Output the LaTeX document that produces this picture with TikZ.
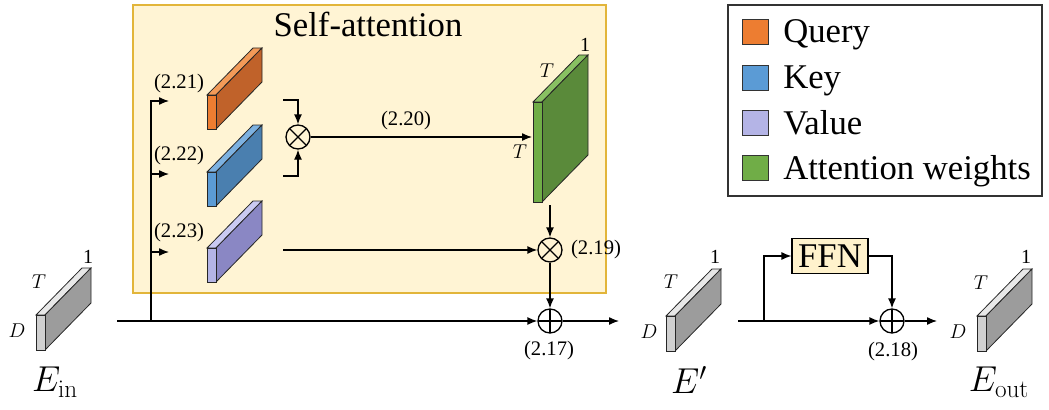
\documentclass[tikz,border=0pt]{standalone}
\usepackage{fix-cm}
\usepackage[no-math]{fontspec}
\setmainfont{Liberation Serif}
\usepackage{tikz}
\usetikzlibrary{arrows.meta, positioning, calc}

\definecolor{boxfill}{HTML}{FFF4D4}
\definecolor{boxline}{HTML}{E2B53A}
\definecolor{ffnfill}{HTML}{FFF2CC}
%% slab colours: front / top / side
\definecolor{embfront}{HTML}{D0D0D0}
\definecolor{embtop}{HTML}{E8E8E8}
\definecolor{embside}{HTML}{9C9C9C}
\definecolor{qryfront}{HTML}{ED7D31}
\definecolor{qrytop}{HTML}{F29A58}
\definecolor{qryside}{HTML}{C0622A}
\definecolor{keyfront}{HTML}{5B9BD5}
\definecolor{keytop}{HTML}{7DB1E0}
\definecolor{keyside}{HTML}{4A7FAF}
\definecolor{valfront}{HTML}{B4B4E6}
\definecolor{valtop}{HTML}{CACAF2}
\definecolor{valside}{HTML}{8A87C4}
\definecolor{attfront}{HTML}{70AD47}
\definecolor{atttop}{HTML}{88C062}
\definecolor{attside}{HTML}{5A8A3A}

%% slab: name, x, y (front top-left), height, colour prefix
\newcommand{\slab}[5]{%
  \filldraw[slabline, fill=#5top]  (#2,#3) -- ++(46,-47) -- ++(9,0) -- ++(-46,47) -- cycle;
  \filldraw[slabline, fill=#5side] (#2+9,#3) -- ++(46,-47) -- ++(0,#4) -- ++(-46,47) -- cycle;
  \filldraw[slabline, fill=#5front] (#2,#3) rectangle ++(9,#4);
  \coordinate (#1) at (#2,#3);
}

\begin{document}
\begin{tikzpicture}[
  x=0.75pt, y=-0.75pt,
  >={Latex[length=7.5pt,width=6pt]},
  %% ── Text styles ─────────────────────────────────────────────────────────
  big/.style={font=\fontsize{26}{30}\selectfont, inner sep=0pt},
  eq/.style={font=\fontsize{15.5}{18}\selectfont, inner sep=0pt},
  dim/.style={font=\fontsize{15}{17}\selectfont, inner sep=0pt},
  tname/.style={font=\fontsize{27}{30}\selectfont, inner sep=0pt},
  %% ── Shape styles ────────────────────────────────────────────────────────
  slabline/.style={draw=black!85, line width=0.6pt},
  opmul/.style={
    circle, draw, line width=1pt, minimum size=18pt, inner sep=0pt,
    path picture={\draw[line width=1pt]
      (path picture bounding box.south west) -- (path picture bounding box.north east)
      (path picture bounding box.north west) -- (path picture bounding box.south east);}
  },
  opadd/.style={
    circle, draw, line width=1pt, minimum size=18pt, inner sep=0pt,
    path picture={\draw[line width=1pt]
      (path picture bounding box.north) -- (path picture bounding box.south)
      (path picture bounding box.west) -- (path picture bounding box.east);}
  },
  ffnbox/.style={
    draw, fill=ffnfill, line width=0.8pt,
    minimum width=57pt, minimum height=26pt, inner sep=2pt,
    font=\fontsize{26}{30}\selectfont
  },
  %% ── Arrow styles ────────────────────────────────────────────────────────
  arr/.style={->, line width=1pt},
]
\useasboundingbox (0,0) rectangle (1049,410);

%% ═══════════════════════════════════════════════════════════════════════
%% SELF-ATTENTION BLOCK
%% ═══════════════════════════════════════════════════════════════════════
\filldraw[fill=boxfill, draw=boxline, line width=1pt] (133,5) rectangle (606,293);
\node[big] (satitle) at (368,24) {Self-attention};

%% ═══════════════════════════════════════════════════════════════════════
%% LEGEND
%% ═══════════════════════════════════════════════════════════════════════
\draw[black!80, line width=0.8pt] (728,5) rectangle (1042,196);
\foreach \yy/\col/\txt in {19/qryfront/Query, 65/keyfront/Key,
                           110/valfront/Value, 155/attfront/Attention weights}{
  \filldraw[fill=\col, draw=black!80, line width=0.6pt] (742,\yy) rectangle ++(26,25);
  \node[big, anchor=base west] at (783,\yy+24) {\txt};
}

%% ═══════════════════════════════════════════════════════════════════════
%% SLABS
%% ═══════════════════════════════════════════════════════════════════════
\slab{ein}{36}{315}{35}{emb}
\slab{emid}{666}{316}{35}{emb}
\slab{eout}{977}{316}{35}{emb}
\slab{qry}{207}{95}{34}{qry}
\slab{key}{207}{172}{34}{key}
\slab{val}{207}{248}{34}{val}
\slab{att}{533}{102}{100}{att}

%% — dimension labels ────────────────────────────────────────────────────
\node[dim] (einT) at (39,282) {$T$};
\node[dim] (einD) at (17,331) {$D$};
\node[dim] (ein1) at (88,257) {1};
\node[dim] (emidT) at (671,282) {$T$};
\node[dim] (emidD) at (649,332) {$D$};
\node[dim] (emid1) at (715,257) {1};
\node[dim] (eoutT) at (981,283) {$T$};
\node[dim] (eoutD) at (958,332) {$D$};
\node[dim] (eout1) at (1026,257) {1};
\node[dim] (attT)  at (547,71)  {$T$};
\node[dim] (attT2) at (520,152) {$T$};
\node[dim] (att1)  at (585,45)  {1};

%% — tensor names ────────────────────────────────────────────────────────
\node[tname] (einname)  at (55,382)  {$E_{\mathrm{in}}$};
\node[tname] (emidname) at (689,380) {$E'$};
\node[tname] (eoutname) at (999,382) {$E_{\mathrm{out}}$};

%% ═══════════════════════════════════════════════════════════════════════
%% OPERATORS
%% ═══════════════════════════════════════════════════════════════════════
\node[opmul] (mul1) at (298,137) {};
\node[opmul] (mul2) at (550,250) {};
\node[opadd] (add1) at (550,321) {};
\node[opadd] (add2) at (892,321) {};
\node[ffnbox] (ffn) at (830,256) {FFN};

%% — equation labels ─────────────────────────────────────────────────────
\node[eq] (eq21) at (179,84)  {(2.21)};
\node[eq] (eq22) at (179,156) {(2.22)};
\node[eq] (eq23) at (179,233) {(2.23)};
\node[eq] (eq20) at (406,121) {(2.20)};
\node[eq] (eq19) at (596,250) {(2.19)};
\node[eq] (eq17) at (549,351) {(2.17)};
\node[eq] (eq18) at (893,352) {(2.18)};

%% ═══════════════════════════════════════════════════════════════════════
%% CONNECTORS
%% ═══════════════════════════════════════════════════════════════════════
\coordinate (inl)  at (117,321);
\coordinate (br1)  at (151,321);
\coordinate (qin)  at (169,101);
\coordinate (kin)  at (169,174);
\coordinate (vin)  at (169,252);
\coordinate (qout) at (283,100);
\coordinate (kout) at (283,176);
\coordinate (vout) at (283,250);
\coordinate (attin)  at (532,137);
\coordinate (attout) at (550,205);
\coordinate (midin)  at (619,321);
\coordinate (midout) at (738,321);
\coordinate (br2)    at (764,321);
\coordinate (outin)  at (937,321);

\draw[arr] (inl) -- (add1);
\draw[arr] (br1) |- (qin);
\draw[arr] (br1) |- (kin);
\draw[arr] (br1) |- (vin);
\draw[arr] (qout) -| (mul1);
\draw[arr] (kout) -| (mul1);
\draw[arr] (mul1) -- (attin);
\draw[arr] (attout) -- (mul2);
\draw[arr] (vout) -- (mul2);
\draw[arr] (mul2) -- (add1);
\draw[arr] (add1) -- (midin);

\draw[arr] (midout) -- (add2);
\draw[arr] (br2) |- (ffn);
\draw[arr] (ffn) -| (add2);
\draw[arr] (add2) -- (outin);

\end{tikzpicture}
\end{document}
